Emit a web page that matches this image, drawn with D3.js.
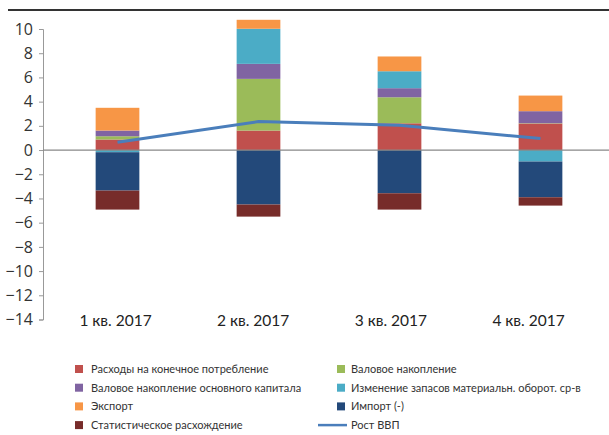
<!DOCTYPE html>
<html><head><meta charset="utf-8">
<script src="https://cdn.jsdelivr.net/npm/d3@7"></script>
<style>body{margin:0;background:#fff}svg{display:block}</style>
</head><body>
<script>
const categories = ["1 кв. 2017","2 кв. 2017","3 кв. 2017","4 кв. 2017"];
const seriesNames = ["Расходы на конечное потребление","Валовое накопление","Валовое накопление основного капитала","Изменение запасов материальн. оборот. ср-в","Экспорт","Импорт (-)","Статистическое расхождение"];
const consumption = [0.87, 1.61, 2.21, 2.19];
const grossAccum = [0.27, 4.27, 2.15, 0.03];
const fixedCapital = [0.47, 1.24, 0.75, 0.99];
const inventories = [-0.18, 2.90, 1.40, -0.95];
const exportsV = [1.88, 0.74, 1.22, 1.29];
const importsV = [-3.17, -4.50, -3.57, -2.95];
const statDiscrepancy = [-1.57, -1.00, -1.35, -0.69];
const gdpGrowth = [0.65, 2.35, 2.05, 0.95];
const gdpName = "Рост ВВП";
const yTicks = [10,8,6,4,2,0,-2,-4,-6,-8,-10,-12,-14];
const colors = ["#c0504d","#9bbb59","#8064a2","#4bacc6","#f79646","#23497a","#772c2a"];
const lineColor = "#4a7ebb";

const W=609,H=435;
const svg=d3.select("body").append("svg").attr("width",W).attr("height",H);
svg.append("rect").attr("width",W).attr("height",H).attr("fill","#fff");
// top rule
svg.append("line").attr("x1",8).attr("x2",W).attr("y1",10).attr("y2",10).attr("stroke","#333").attr("stroke-width",2);

const allSeries=[consumption,grossAccum,fixedCapital,inventories,exportsV,importsV,statDiscrepancy];
const table=categories.map((c,i)=>{const o={cat:c};seriesNames.forEach((s,j)=>o[s]=allSeries[j][i]);return o;});

const y=d3.scaleLinear().domain([-14,10]).range([319.5,29]);
const x=d3.scaleBand().domain(categories).range([47,611]).paddingInner(0.69).paddingOuter(0.345);
const xl=d3.scalePoint().domain(categories).range([115,528]);

const stack=d3.stack().keys(seriesNames).offset(d3.stackOffsetDiverging);
const stacked=stack(table);

// y axis
const yAxis=svg.append("g").attr("transform","translate(43,0)")
  .call(d3.axisLeft(y).tickValues(yTicks).tickFormat(d3.format("d")).tickSize(4).tickPadding(6));
yAxis.select(".domain").attr("stroke","#999");
yAxis.selectAll(".tick line").attr("stroke","#999");
yAxis.selectAll("text").attr("fill","#333").style("font-family","Open Sans").style("font-size","16px");

// bars
svg.append("g").selectAll("g").data(stacked).join("g").attr("fill",(d,i)=>colors[i])
  .selectAll("rect").data(d=>d).join("rect")
  .attr("x",d=>x(d.data.cat)).attr("width",x.bandwidth())
  .attr("y",d=>y(Math.max(d[0],d[1]))).attr("height",d=>Math.abs(y(d[0])-y(d[1])));

// zero line
svg.append("line").attr("x1",43).attr("x2",W).attr("y1",y(0)).attr("y2",y(0)).attr("stroke","#888").attr("stroke-width",1.2);

// GDP line
svg.append("path").datum(gdpGrowth).attr("fill","none").attr("stroke",lineColor).attr("stroke-width",3)
  .attr("d",d3.line().x((d,i)=>x(categories[i])+x.bandwidth()/2).y(d=>y(d)));

// x labels
const xAxis=svg.append("g").attr("transform","translate(0,312)").call(d3.axisBottom(xl).tickSize(0));
xAxis.select(".domain").remove();
xAxis.selectAll("text").attr("fill","#222").style("font-family","Lato").style("font-size","15.5px");

// legend
const legendItems=[
  {name:seriesNames[0],c:colors[0],col:0,row:0},
  {name:seriesNames[1],c:colors[1],col:1,row:0},
  {name:seriesNames[2],c:colors[2],col:0,row:1},
  {name:seriesNames[3],c:colors[3],col:1,row:1},
  {name:seriesNames[4],c:colors[4],col:0,row:2},
  {name:seriesNames[5],c:colors[5],col:1,row:2},
  {name:seriesNames[6],c:colors[6],col:0,row:3},
  {name:gdpName,c:lineColor,col:1,row:3,line:true}
];
const lg=svg.append("g");
legendItems.forEach(it=>{
  const bx=it.col===0?75:337, cy=369+it.row*18.7;
  if(it.line){
    lg.append("line").attr("x1",318).attr("x2",347).attr("y1",cy).attr("y2",cy).attr("stroke",it.c).attr("stroke-width",2.5);
  } else {
    lg.append("rect").attr("x",bx).attr("y",cy-4).attr("width",8).attr("height",8).attr("fill",it.c);
  }
  lg.append("text").attr("x",it.col===0?91:351).attr("y",cy).attr("dy","0.35em")
    .attr("fill","#333").style("font-family","Lato").style("font-size","11px").text(it.name);
});
</script>
</body></html>
